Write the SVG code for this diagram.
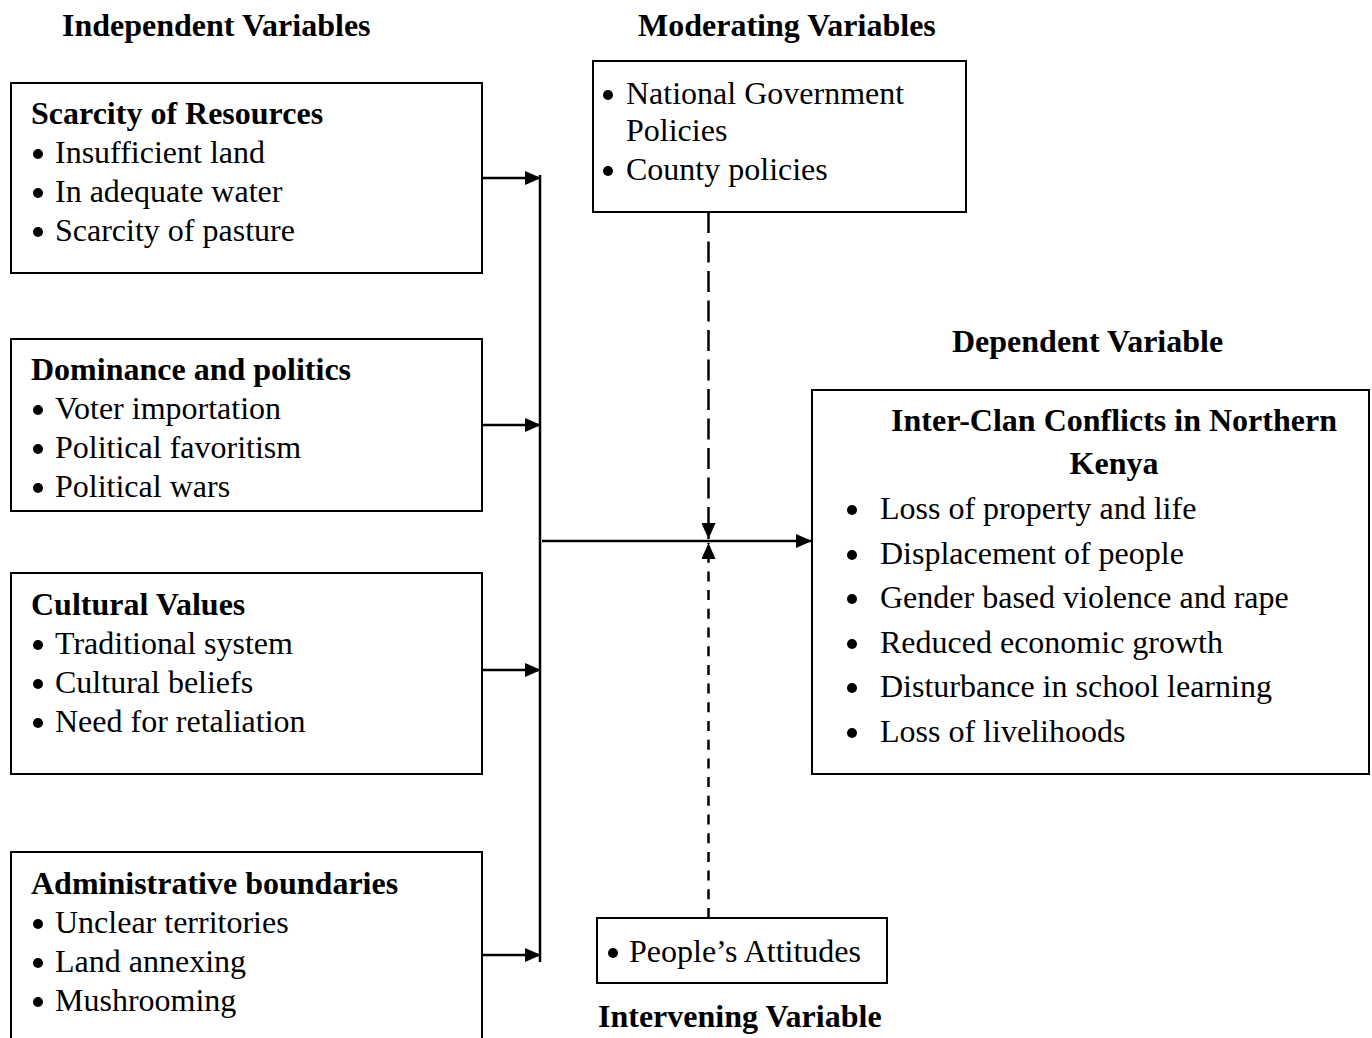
<svg xmlns="http://www.w3.org/2000/svg" width="1372" height="1038" viewBox="0 0 1372 1038">
<style>
text{font-family:"Liberation Serif","Times New Roman",serif;font-size:32px;fill:#000}
.b{font-weight:bold}
.box{fill:#fff;stroke:#000;stroke-width:2}
.ln{stroke:#000;stroke-width:2.5;fill:none}
.ds{stroke:#000;stroke-width:2.5;fill:none;stroke-dasharray:21,8.5}
.ds2{stroke:#000;stroke-width:2.5;fill:none;stroke-dasharray:10,8.7}
.dot{fill:#000}
</style>
<defs>
<marker id="ah2" markerWidth="16" markerHeight="14" refX="16" refY="7" orient="auto" markerUnits="userSpaceOnUse" viewBox="0 0 16 14">
<path d="M0,0 L16,7 L0,14 Z" fill="#000"/>
</marker>
<circle id="bl" r="5" class="dot"/>
</defs>
<rect width="1372" height="1038" fill="#fff"/>
<text class="b" x="62" y="36">Independent Variables</text>
<text class="b" x="638" y="36">Moderating Variables</text>
<text class="b" x="952" y="352">Dependent Variable</text>
<text class="b" x="598" y="1027">Intervening Variable</text>

<g id="scarcity">
<rect class="box" x="11" y="83" width="471" height="190"/>
<text class="b" x="31" y="124">Scarcity of Resources</text>
<use href="#bl" x="38" y="154"/><text x="55" y="163">Insufficient land</text>
<use href="#bl" x="38" y="193"/><text x="55" y="202">In adequate water</text>
<use href="#bl" x="38" y="232"/><text x="55" y="241">Scarcity of pasture</text>
</g>
<g id="dominance">
<rect class="box" x="11" y="339" width="471" height="172"/>
<text class="b" x="31" y="380">Dominance and politics</text>
<use href="#bl" x="38" y="410"/><text x="55" y="419">Voter importation</text>
<use href="#bl" x="38" y="449"/><text x="55" y="458">Political favoritism</text>
<use href="#bl" x="38" y="488"/><text x="55" y="497">Political wars</text>
</g>
<g id="cultural">
<rect class="box" x="11" y="573" width="471" height="201"/>
<text class="b" x="31" y="615">Cultural Values</text>
<use href="#bl" x="38" y="645"/><text x="55" y="654">Traditional system</text>
<use href="#bl" x="38" y="684"/><text x="55" y="693">Cultural beliefs</text>
<use href="#bl" x="38" y="723"/><text x="55" y="732">Need for retaliation</text>
</g>
<g id="administrative">
<rect class="box" x="11" y="852" width="471" height="200"/>
<text class="b" x="31" y="894">Administrative boundaries</text>
<use href="#bl" x="38" y="924"/><text x="55" y="933">Unclear territories</text>
<use href="#bl" x="38" y="963"/><text x="55" y="972">Land annexing</text>
<use href="#bl" x="38" y="1002"/><text x="55" y="1011">Mushrooming</text>
</g>
<g id="moderating">
<rect class="box" x="593" y="61" width="373" height="151"/>
<use href="#bl" x="608" y="95"/><text x="626" y="104">National Government</text>
<text x="626" y="141">Policies</text>
<use href="#bl" x="608" y="171"/><text x="626" y="180">County policies</text>
</g>
<g id="intervening">
<rect class="box" x="597" y="918" width="290" height="65"/>
<use href="#bl" x="613" y="953"/><text x="629" y="962">People’s Attitudes</text>
</g>
<g id="dependent">
<rect class="box" x="812" y="390" width="557" height="384"/>
<text class="b" x="1114" y="431" text-anchor="middle">Inter-Clan Conflicts in Northern</text>
<text class="b" x="1114" y="474" text-anchor="middle">Kenya</text>
<use href="#bl" x="852" y="510"/><text x="880" y="519">Loss of property and life</text>
<use href="#bl" x="852" y="555"/><text x="880" y="564">Displacement of people</text>
<use href="#bl" x="852" y="599"/><text x="880" y="608">Gender based violence and rape</text>
<use href="#bl" x="852" y="644"/><text x="880" y="653">Reduced economic growth</text>
<use href="#bl" x="852" y="688"/><text x="880" y="697">Disturbance in school learning</text>
<use href="#bl" x="852" y="733"/><text x="880" y="742">Loss of livelihoods</text>
</g>
<g id="connectors">
<line class="ln" x1="540" y1="175" x2="540" y2="962"/>
<line class="ln" x1="482" y1="178" x2="541" y2="178" marker-end="url(#ah2)"/>
<line class="ln" x1="482" y1="425" x2="541" y2="425" marker-end="url(#ah2)"/>
<line class="ln" x1="482" y1="670" x2="541" y2="670" marker-end="url(#ah2)"/>
<line class="ln" x1="482" y1="955" x2="541" y2="955" marker-end="url(#ah2)"/>
<line class="ln" x1="542" y1="541" x2="812" y2="541" marker-end="url(#ah2)"/>
<line class="ds" x1="708.5" y1="212" x2="708.5" y2="539" marker-end="url(#ah2)"/>
<line class="ds2" x1="708.5" y1="918" x2="708.5" y2="543" marker-end="url(#ah2)"/>
</g>
</svg>
